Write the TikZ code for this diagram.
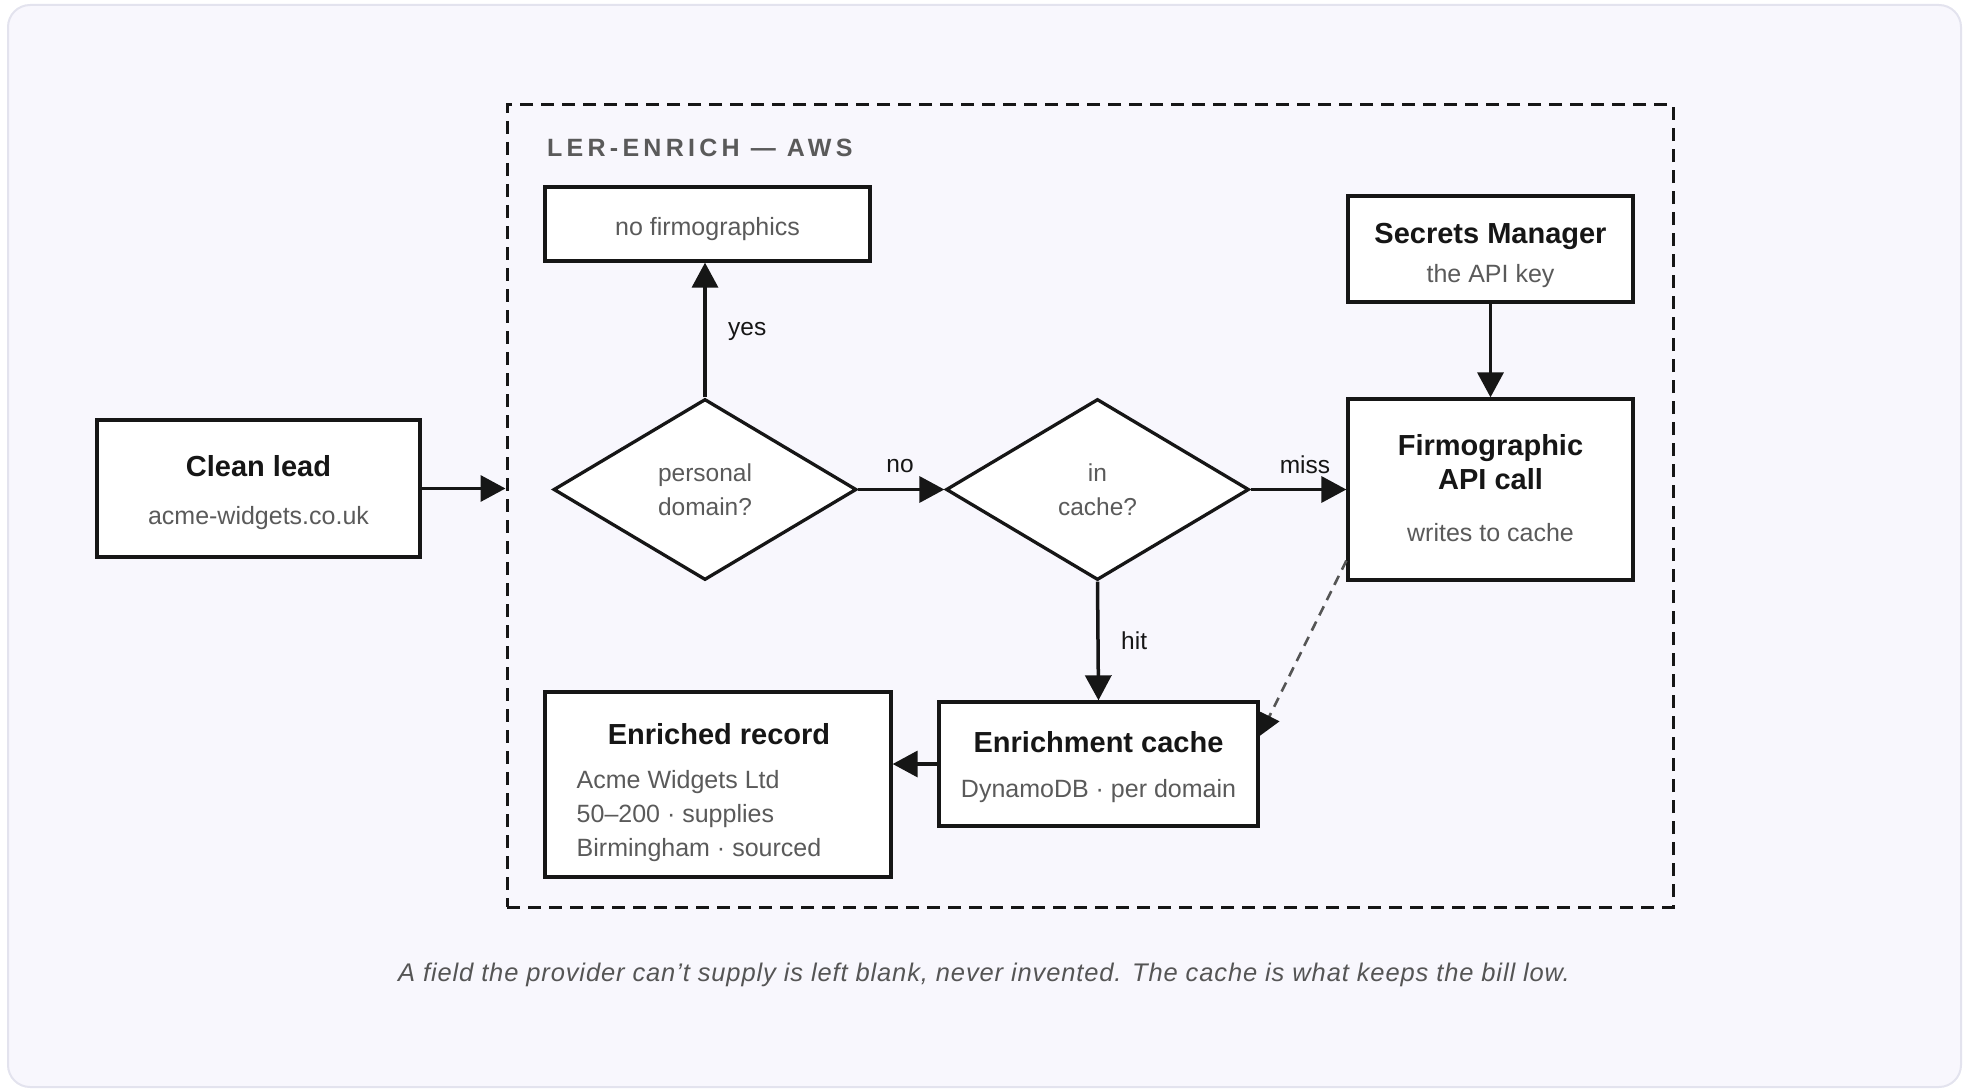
\documentclass[tikz,border=0pt]{standalone}
\usepackage{fontspec}
\setmainfont{Liberation Sans}
\newfontfamily\trackedfont{Liberation Sans}[LetterSpace=17]
\newfontfamily\captionfont{Liberation Sans}[LetterSpace=3.4]
\usetikzlibrary{arrows.meta,shapes.geometric,calc}

\definecolor{ink}{HTML}{161616}
\definecolor{notegray}{HTML}{5A5A5A}
\definecolor{pagebg}{HTML}{F8F7FD}
\definecolor{pageframe}{HTML}{E3E3EE}
\definecolor{linkgray}{HTML}{555555}

\tikzset{
  boxnode/.style={draw=ink, line width=3.3pt, fill=white, rectangle, inner sep=0pt},
  decision/.style={draw=ink, line width=3.3pt, fill=white, diamond, inner sep=0pt,
    align=center, text=notegray, font=\fontsize{24.5}{34}\selectfont},
  container/.style={draw=ink, line width=3pt, dash pattern=on 13pt off 8pt, rectangle, inner sep=0pt},
  boxtitle/.style={font=\bfseries\fontsize{29}{34}\selectfont, text=ink, inner sep=0pt, anchor=base},
  boxnote/.style={font=\fontsize{25}{30}\selectfont, text=notegray, inner sep=0pt, anchor=base},
  edgelabel/.style={font=\fontsize{24.5}{30}\selectfont, text=ink, inner sep=0pt, anchor=base},
  arr/.style={draw=ink, line width=3.5pt, -{Triangle[length=25pt,width=26pt]}},
  dasharr/.style={draw=linkgray, line width=2.6pt, dash pattern=on 10pt off 7pt,
    -{Triangle[length=22pt,width=22pt,fill=ink,color=ink]}}
}

\begin{document}
\begin{tikzpicture}[x=1pt,y=-1pt]
\useasboundingbox (0,0) rectangle (1968,1089);

% page card
\draw[draw=pageframe, fill=pagebg, line width=2pt, rounded corners=22pt] (8,5) rectangle (1961,1087);

% AWS group
\node[container, minimum width=1166pt, minimum height=802pt] (aws) at (1090,506) {};
\node[font=\trackedfont\bfseries\fontsize{25}{30}\selectfont, text=notegray, inner sep=0pt, anchor=base west]
  (awsT) at (547,157) {LER-ENRICH — AWS};

% input
\node[boxnode, minimum width=323pt, minimum height=137pt] (clean) at (258.5,488.5) {};
\node[boxtitle] (cleanT) at (258.5,476) {Clean lead};
\node[boxnote] (cleanS) at (258.5,524) {acme-widgets.co.uk};

% decisions
\node[decision, minimum width=303pt, minimum height=181pt] (d1) at (705,489.5) {personal\\domain?};
\node[decision, minimum width=303pt, minimum height=181pt] (d2) at (1097.5,489.5) {in\\cache?};

% no firmographics
\node[boxnode, minimum width=325pt, minimum height=74pt] (nofirm) at (707.5,224) {};
\node[boxnote] (nofirmT) at (707.5,235) {no firmographics};

% secrets manager
\node[boxnode, minimum width=285pt, minimum height=106pt] (secrets) at (1490.5,249) {};
\node[boxtitle] (secretsT) at (1490.5,243) {Secrets Manager};
\node[boxnote] (secretsS) at (1490.5,282) {the API key};

% firmographic API call
\node[boxnode, minimum width=285pt, minimum height=181pt] (api) at (1490.5,489.5) {};
\node[boxtitle] (apiT1) at (1490.5,455) {Firmographic};
\node[boxtitle] (apiT2) at (1490.5,489) {API call};
\node[boxnote] (apiS) at (1490.5,541) {writes to cache};

% enrichment cache
\node[boxnode, minimum width=319pt, minimum height=124pt] (cache) at (1098.5,764) {};
\node[boxtitle] (cacheT) at (1098.5,752) {Enrichment cache};
\node[boxnote] (cacheS) at (1098.5,797) {DynamoDB · per domain};

% enriched record
\node[boxnode, minimum width=346pt, minimum height=185pt] (record) at (718,784.5) {};
\node[boxtitle] (recordT) at (719,744) {Enriched record};
\node[boxnote, anchor=base west] (recordA) at (576.5,788) {Acme Widgets Ltd};
\node[boxnote, anchor=base west] (recordB) at (576.5,822) {50–200 · supplies};
\node[boxnote, anchor=base west] (recordC) at (576.5,856) {Birmingham · sourced};

% connectors
\draw[arr] (clean.east) -- (clean.east -| aws.west);
\draw[arr] (d1.north) -- (d1.north |- nofirm.south);
\draw[arr] (d1.east) -- (d2.west);
\draw[arr] (d2.east) -- (api.west);
\draw[arr] (d2.south) -- (cache.north);
\draw[arr] (secrets.south) -- (api.north);
\draw[arr] (cache.west) -- (cache.west -| record.east);
\draw[dasharr] ($(api.south west)+(0,-21)$) -- ($(cache.east)+(0,-28)$);

% connector labels
\node[edgelabel, anchor=base west] (lyes) at (728,335) {yes};
\node[edgelabel] (lno) at (900,472) {no};
\node[edgelabel] (lmiss) at (1305,473) {miss};
\node[edgelabel, anchor=base west] (lhit) at (1121,649) {hit};

% caption
\node[font=\captionfont\itshape\fontsize{25.5}{30}\selectfont, text=linkgray, inner sep=0pt, anchor=base]
  (caption) at (984,981) {A field the provider can’t supply is left blank, never invented. The cache is what keeps the bill low.};
\end{tikzpicture}
\end{document}
